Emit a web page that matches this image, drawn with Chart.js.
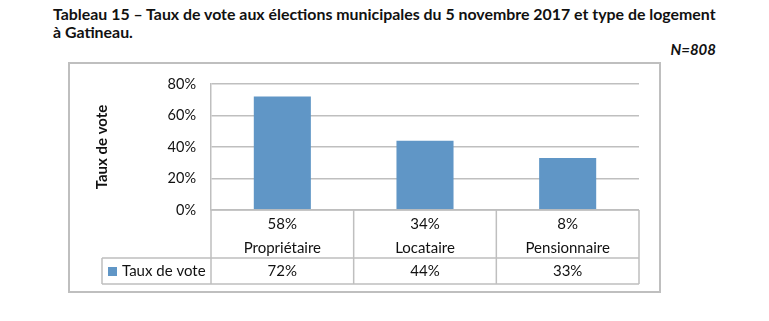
<!DOCTYPE html>
<html lang="fr">
<head>
<meta charset="UTF-8">
<title>Tableau 15 - Taux de vote et type de logement</title>
<script src="https://cdn.jsdelivr.net/npm/chart.js"></script>
<style>
  body { margin: 0; background: #fff; font-family: Lato, "Open Sans", sans-serif; }
  #wrap { position: relative; width: 769px; height: 321px; }
  #titre { position: absolute; left: 53px; top: 5px; font-weight: bold; font-size: 15.9px; line-height: 18px; color: #111; white-space: nowrap; }
  #n { position: absolute; right: 53px; top: 40px; font-weight: bold; font-style: italic; font-size: 15px; color: #111; }
  canvas { position: absolute; left: 0; top: 0; }
</style>
</head>
<body>
<div id="wrap">
  <div id="titre">Tableau 15 – Taux de vote aux élections municipales du 5 novembre 2017 et type de logement<br>à Gatineau.</div>
  <div id="n">N=808</div>
  <canvas id="chart" width="769" height="321"></canvas>
</div>
<script>
  // données
  const categories = ['Propriétaire', 'Locataire', 'Pensionnaire'];
  const partLogement = ['58%', '34%', '8%'];
  const tauxVote = [72, 44, 33];
  const serieLabel = 'Taux de vote';
  const yTicks = [0, 20, 40, 60, 80];

  const barColor = '#6096c6';
  const lineColor = '#bfbfbf';
  const txtFont = '15px Lato, "Open Sans", sans-serif';

  // cadre extérieur + tableau de données sous le graphique
  const tablePlugin = {
    id: 'tableau',
    afterDraw(chart) {
      const ctx = chart.ctx;
      const area = chart.chartArea;
      const x = chart.scales.x;
      const half = (area.right - area.left) / categories.length / 2;
      const top = area.bottom, mid = top + 48, bot = top + 74;
      const legLeft = 102;

      ctx.save();
      // cadre du graphique
      ctx.strokeStyle = lineColor;
      ctx.lineWidth = 2;
      ctx.strokeRect(69, 63, 591, 229);

      // lignes du tableau
      ctx.lineWidth = 1.5;
      ctx.beginPath();
      ctx.moveTo(area.left, top); ctx.lineTo(area.right, top);
      ctx.moveTo(legLeft, mid); ctx.lineTo(area.right, mid);
      ctx.moveTo(legLeft, bot); ctx.lineTo(area.right, bot);
      ctx.moveTo(legLeft, mid); ctx.lineTo(legLeft, bot);
      categories.forEach((c, i) => {
        const xl = x.getPixelForValue(i) - half;
        ctx.moveTo(xl, top); ctx.lineTo(xl, bot);
      });
      ctx.moveTo(area.right, top); ctx.lineTo(area.right, bot);
      ctx.stroke();

      // textes
      ctx.fillStyle = '#111';
      ctx.font = txtFont;
      ctx.textAlign = 'center';
      ctx.textBaseline = 'middle';
      categories.forEach((c, i) => {
        const cx = x.getPixelForValue(i);
        ctx.fillText(partLogement[i], cx, top + 14);
        ctx.fillText(c, cx, top + 38);
        ctx.fillText(tauxVote[i] + '%', cx, mid + 13);
      });

      // légende
      ctx.fillStyle = barColor;
      ctx.fillRect(108, mid + 9, 9, 9);
      ctx.fillStyle = '#111';
      ctx.textAlign = 'left';
      ctx.fillText(serieLabel, 122, mid + 13);
      ctx.restore();
    }
  };

  new Chart(document.getElementById('chart'), {
    type: 'bar',
    data: {
      labels: categories,
      datasets: [{
        label: serieLabel,
        data: tauxVote,
        backgroundColor: barColor,
        barPercentage: 0.4,
        categoryPercentage: 1
      }]
    },
    options: {
      responsive: false,
      animation: false,
      layout: { padding: { left: 69, top: 84, right: 130, bottom: 111 } },
      plugins: { legend: { display: false }, tooltip: { enabled: false } },
      scales: {
        x: { display: false },
        y: {
          min: 0,
          max: 80,
          afterFit(scale) { scale.width = 142; },
          afterBuildTicks(scale) { scale.ticks = yTicks.map(v => ({ value: v })); },
          ticks: {
            padding: 15,
            color: '#111',
            font: { family: 'Lato, "Open Sans", sans-serif', size: 14.5 },
            callback: v => v + '%'
          },
          grid: { color: lineColor, lineWidth: 1.5, drawTicks: false },
          border: { color: lineColor, width: 1.5 },
          title: {
            display: true,
            text: serieLabel,
            color: '#111',
            font: { family: 'Lato, "Open Sans", sans-serif', size: 15, weight: 'bold' },
            padding: { top: 24, bottom: 0 }
          }
        }
      }
    },
    plugins: [tablePlugin]
  });
</script>
</body>
</html>
